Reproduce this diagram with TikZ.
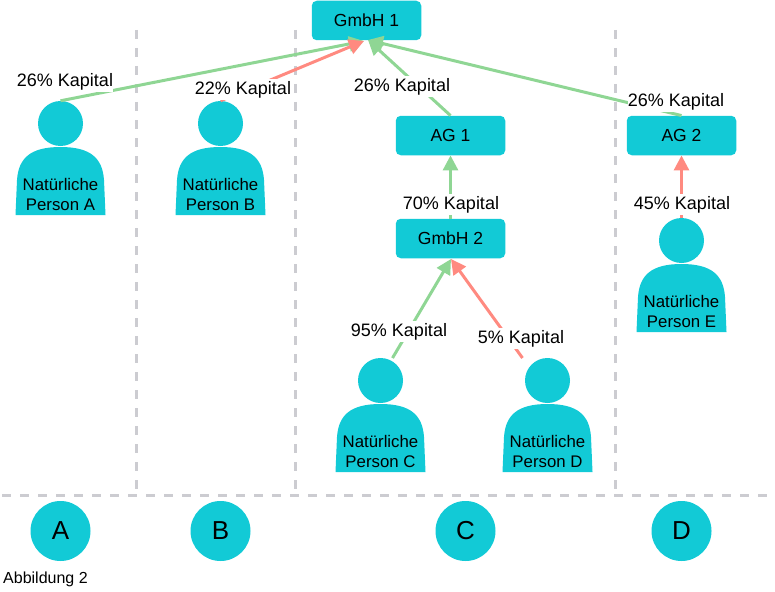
\documentclass[tikz,border=0pt]{standalone}
\usepackage{fontspec}
\setmainfont{Liberation Sans}
\usetikzlibrary{arrows.meta}
\definecolor{teal1}{HTML}{12CAD6}
\definecolor{gr}{HTML}{8FD694}
\definecolor{rd}{HTML}{FF8A80}
\definecolor{gy}{HTML}{CCCCD1}
\tikzset{
  x=1pt,y=-1pt,
  box/.style={fill=teal1,draw=none,rounded corners=5pt,minimum width=109.5pt,minimum height=39.5pt,inner sep=0pt,font=\fontsize{17.5}{20}\selectfont},
  head/.style={circle,fill=teal1,draw=none,minimum size=45pt,inner sep=0pt},
  bodytext/.style={align=center,inner sep=0pt,font=\fontsize{16.8}{20}\selectfont},
  letter/.style={circle,fill=teal1,draw=none,minimum size=60pt,inner sep=0pt,font=\fontsize{26}{30}\selectfont},
  lab/.style={fill=white,inner sep=0pt,minimum height=21pt,font=\fontsize{18}{20}\selectfont},
  gedge/.style={draw=gr,line width=3pt,-{Triangle[length=15pt,width=15pt]}},
  redge/.style={draw=rd,line width=3pt,-{Triangle[length=15pt,width=15pt]}},
  sep/.style={draw=gy,line width=3pt,dash pattern=on 9pt off 9pt},
  person/.pic={
    \fill[teal1] (-45,45) -- (-43.5,10) .. controls (-42,-12) and (-30,-23) .. (0,-23)
      .. controls (30,-23) and (42,-12) .. (43.5,10) -- (45,45) -- cycle;
  }
}
\begin{document}
\begin{tikzpicture}
\useasboundingbox (0,0) rectangle (775,591);
% separators
\coordinate (v1a) at (136,30); \coordinate (v1b) at (136,495);
\coordinate (v2a) at (295,30); \coordinate (v2b) at (295,495);
\coordinate (v3a) at (615,30); \coordinate (v3b) at (615,495);
\coordinate (ha) at (2,495); \coordinate (hb) at (772,495);
\draw[sep] (v1a) -- (v1b);
\draw[sep] (v2a) -- (v2b);
\draw[sep] (v3a) -- (v3b);
\draw[sep] (ha) -- (hb);
% boxes
\node[box] (g1) at (366.5,20.5) {GmbH 1};
\node[box] (ag1) at (450.5,135.5) {AG 1};
\node[box] (ag2) at (681.5,135.5) {AG 2};
\node[box] (g2) at (450.5,238.5) {GmbH 2};
% persons
\node[head] (pa) at (60.5,123.5) {};
\node[head] (pb) at (220.5,123.5) {};
\node[head] (pc) at (380.5,380.5) {};
\node[head] (pd) at (547.5,380.5) {};
\node[head] (pe) at (681.5,240.5) {};
\pic at (60.5,170) {person};
\pic at (220.5,170) {person};
\pic at (380.5,427) {person};
\pic at (547.5,427) {person};
\pic at (681.5,287) {person};
\node[bodytext] (ta) at (60.5,194) {Natürliche\\Person A};
\node[bodytext] (tb) at (220.5,194) {Natürliche\\Person B};
\node[bodytext] (tc) at (380.5,451) {Natürliche\\Person C};
\node[bodytext] (td) at (547.5,451) {Natürliche\\Person D};
\node[bodytext] (te) at (681.5,311) {Natürliche\\Person E};
% arrow targets and free ends
\coordinate (t1) at (364,41);
\coordinate (t2) at (368,40);
\coordinate (t3) at (451,259);
\coordinate (sc) at (392.5,358);
\coordinate (sd) at (522.5,358);
% connectors
\draw[gedge] (pa.north) -- (t1);
\draw[redge] (pb.north) -- (t1);
\draw[gedge] (ag1.north) -- (t2);
\draw[gedge] (ag2.north) -- (t2);
\draw[gedge] (g2.north) -- (ag1.south);
\draw[redge] (pe.north) -- (ag2.south);
\draw[gedge] (sc) -- (t3);
\draw[redge] (sd) -- (t3);
% labels
\node[lab] (l1) at (65,81.5) {26\% Kapital};
\node[lab] (l2) at (243,89.5) {22\% Kapital};
\node[lab] (l3) at (402,86.5) {26\% Kapital};
\node[lab] (l4) at (676,101.5) {26\% Kapital};
\node[lab] (l5) at (451,204.5) {70\% Kapital};
\node[lab] (l6) at (682,204.5) {45\% Kapital};
\node[lab] (l7) at (399,331.5) {95\% Kapital};
\node[lab] (l8) at (521,338.5) {5\% Kapital};
% columns
\node[letter] (ca) at (60.5,531) {A};
\node[letter] (cb) at (220.5,531) {B};
\node[letter] (cc) at (465.5,531) {C};
\node[letter] (cd) at (681.5,531) {D};
\node[anchor=west,inner sep=0pt,font=\fontsize{16}{18}\selectfont] (cap) at (3,579.5) {Abbildung 2};
\end{tikzpicture}
\end{document}
